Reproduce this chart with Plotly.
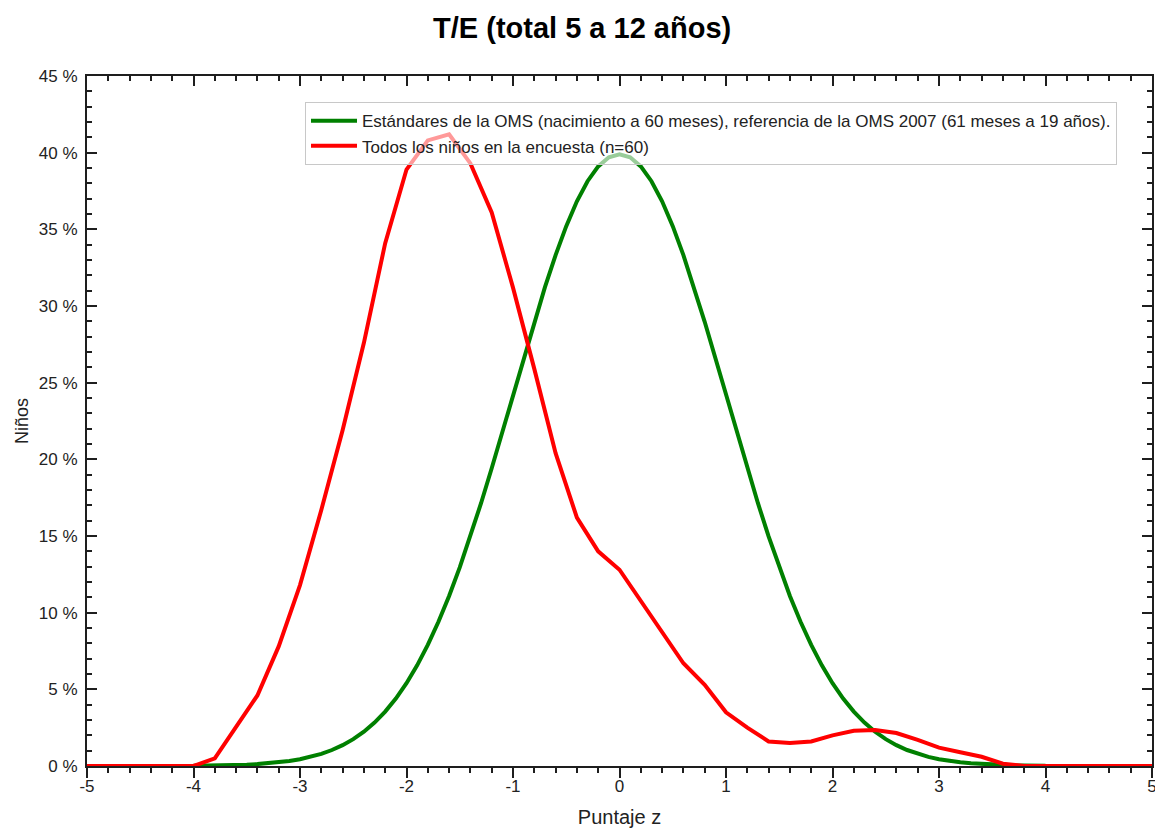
import plotly.graph_objects as go

# ---------------- data ----------------
title_text = "T/E (total 5 a 12 años)"
x_label = "Puntaje z"
y_label = "Niños"

who_name = "Estándares de la OMS (nacimiento a 60 meses), referencia de la OMS 2007 (61 meses a 19 años)."
survey_name = "Todos los niños en la encuesta (n=60)"

who_z = [-4.0, -3.9, -3.8, -3.7, -3.6, -3.5, -3.4, -3.3, -3.2, -3.1,
         -3.0, -2.9, -2.8, -2.7, -2.6, -2.5, -2.4, -2.3, -2.2, -2.1,
         -2.0, -1.9, -1.8, -1.7, -1.6, -1.5, -1.4, -1.3, -1.2, -1.1,
         -1.0, -0.9, -0.8, -0.7, -0.6, -0.5, -0.4, -0.3, -0.2, -0.1,
         0.0, 0.1, 0.2, 0.3, 0.4, 0.5, 0.6, 0.7, 0.8, 0.9,
         1.0, 1.1, 1.2, 1.3, 1.4, 1.5, 1.6, 1.7, 1.8, 1.9,
         2.0, 2.1, 2.2, 2.3, 2.4, 2.5, 2.6, 2.7, 2.8, 2.9,
         3.0, 3.1, 3.2, 3.3, 3.4, 3.5, 3.6, 3.7, 3.8, 3.9, 4.0]
who_pct = [0.013, 0.020, 0.029, 0.042, 0.061, 0.087, 0.123, 0.172, 0.238, 0.327,
           0.443, 0.595, 0.792, 1.042, 1.358, 1.753, 2.239, 2.833, 3.547, 4.398,
           5.399, 6.562, 7.895, 9.405, 11.092, 12.952, 14.973, 17.137, 19.419, 21.785,
           24.197, 26.609, 28.969, 31.225, 33.322, 35.207, 36.827, 38.139, 39.104, 39.695,
           39.894, 39.695, 39.104, 38.139, 36.827, 35.207, 33.322, 31.225, 28.969, 26.609,
           24.197, 21.785, 19.419, 17.137, 14.973, 12.952, 11.092, 9.405, 7.895, 6.562,
           5.399, 4.398, 3.547, 2.833, 2.239, 1.753, 1.358, 1.042, 0.792, 0.595,
           0.443, 0.327, 0.238, 0.172, 0.123, 0.087, 0.061, 0.042, 0.029, 0.020, 0.013]

survey_z = [-5.0, -4.8, -4.6, -4.4, -4.2, -4.0, -3.8, -3.6, -3.4, -3.2,
            -3.0, -2.8, -2.6, -2.4, -2.2, -2.0, -1.8, -1.6, -1.4, -1.2,
            -1.0, -0.8, -0.6, -0.4, -0.2, 0.0, 0.2, 0.4, 0.6, 0.8,
            1.0, 1.2, 1.4, 1.6, 1.8, 2.0, 2.2, 2.4, 2.6, 2.8,
            3.0, 3.2, 3.4, 3.6, 3.8, 4.0, 4.2, 4.4, 4.6, 4.8, 5.0]
survey_pct = [0, 0, 0, 0, 0, 0, 0.5, 2.5, 4.6, 7.8,
              11.8, 16.7, 21.9, 27.6, 34.1, 38.9, 40.8, 41.2, 39.3, 36.1,
              31.2, 25.9, 20.4, 16.2, 14.0, 12.8, 10.8, 8.7, 6.7, 5.3,
              3.5, 2.5, 1.6, 1.5, 1.6, 2.0, 2.3, 2.35, 2.15, 1.7,
              1.2, 0.9, 0.6, 0.15, 0, 0, 0, 0, 0, 0, 0]

x_tick_vals = [-5, -4, -3, -2, -1, 0, 1, 2, 3, 4, 5]
x_tick_labels = ["-5", "-4", "-3", "-2", "-1", "0", "1", "2", "3", "4", "5"]
y_tick_vals = [0, 5, 10, 15, 20, 25, 30, 35, 40, 45]
y_tick_labels = ["0 %", "5 %", "10 %", "15 %", "20 %", "25 %", "30 %", "35 %", "40 %", "45 %"]

# ---------------- figure ----------------
axis_col = "#1e1e1e"
font_fam = "Liberation Sans, Arial, sans-serif"

fig = go.Figure()
fig.add_trace(go.Scatter(x=who_z, y=who_pct, mode="lines", name=who_name,
                         line=dict(color="#008000", width=4)))
fig.add_trace(go.Scatter(x=survey_z, y=survey_pct, mode="lines", name=survey_name,
                         line=dict(color="#ff0000", width=4)))
# empty trace to carry the top and right axes
fig.add_trace(go.Scatter(x=[], y=[], xaxis="x2", yaxis="y2", showlegend=False, hoverinfo="skip"))

common_minor_x = dict(dtick=0.2, ticklen=5, tickwidth=2, tickcolor=axis_col, showgrid=False)
common_minor_y = dict(dtick=1, ticklen=5, tickwidth=2, tickcolor=axis_col, showgrid=False)

fig.update_layout(
    width=1155, height=828,
    paper_bgcolor="white", plot_bgcolor="white",
    margin=dict(l=87, r=3, t=76, b=62),
    font=dict(family=font_fam, color=axis_col, size=15),
    title=dict(text="<b>" + title_text + "</b>", x=0.504, xref="container",
               y=1 - 28 / 828, yref="container", yanchor="middle", xanchor="center",
               font=dict(size=29, color="black", family=font_fam)),
    showlegend=True,
    legend=dict(x=0.2047, y=0.962, xanchor="left", yanchor="top",
                bgcolor="rgba(255,255,255,0.6)", bordercolor="#c8c8c8", borderwidth=1,
                font=dict(size=17, color="#222"), itemwidth=46, tracegroupgap=0),
    xaxis=dict(range=[-5, 5], tickvals=x_tick_vals, ticktext=x_tick_labels,
               ticks="outside", ticklen=10, tickwidth=2, tickcolor=axis_col,
               showline=True, linecolor=axis_col, linewidth=2,
               showgrid=False, zeroline=False, automargin=False,
               tickfont=dict(size=17, color="#222"), ticklabelstandoff=-6,
               ticklabeloverflow="allow",
               minor=dict(ticks="outside", **common_minor_x),
               title=dict(text=x_label, font=dict(size=20, color="#222"), standoff=16)),
    xaxis2=dict(range=[-5, 5], overlaying="x", side="top", anchor="y2",
                tickvals=x_tick_vals, showticklabels=False,
                ticks="inside", ticklen=10, tickwidth=2, tickcolor=axis_col,
                showline=True, linecolor=axis_col, linewidth=2,
                showgrid=False, zeroline=False, automargin=False,
                minor=dict(ticks="inside", **common_minor_x)),
    yaxis=dict(range=[0, 45], tickvals=y_tick_vals, ticktext=y_tick_labels,
               ticks="inside", ticklen=10, tickwidth=2, tickcolor=axis_col,
               showline=True, linecolor=axis_col, linewidth=2,
               showgrid=False, zeroline=False, automargin=False,
               tickfont=dict(size=17, color="#222"), ticklabelstandoff=4,
               minor=dict(ticks="inside", **common_minor_y),
               title=dict(text=y_label, font=dict(size=18, color="#222"), standoff=6)),
    yaxis2=dict(range=[0, 45], overlaying="y", side="right", anchor="x2",
                tickvals=y_tick_vals, showticklabels=False,
                ticks="inside", ticklen=10, tickwidth=2, tickcolor=axis_col,
                showline=True, linecolor=axis_col, linewidth=2,
                showgrid=False, zeroline=False, automargin=False,
                minor=dict(ticks="inside", **common_minor_y)),
)

fig.write_html("out.html", config={"displayModeBar": False},
               post_script="document.body.style.margin='0';document.body.style.overflow='hidden';")
